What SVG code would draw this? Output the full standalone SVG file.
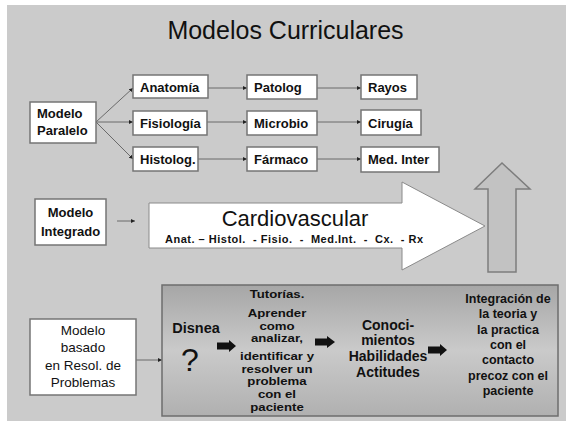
<svg xmlns="http://www.w3.org/2000/svg" width="573" height="427" viewBox="0 0 573 427">
<defs>
<style>
text{font-family:"Liberation Sans",Arial,sans-serif;fill:#111;}
.b{font-weight:bold;}
.box{fill:#fff;stroke:#757575;stroke-width:1.5;}
.lbl{font-size:13px;font-weight:bold;}
.con{stroke:#6a6a6a;stroke-width:1;fill:none;marker-end:url(#ah);}
.blk{fill:#111;}
.mid{text-anchor:middle;}
</style>
<marker id="ah" viewBox="0 0 6 6" refX="6" refY="3" markerWidth="4" markerHeight="4" orient="auto" markerUnits="userSpaceOnUse">
<path d="M0,0 L6,3 L0,6 z" fill="#222"/>
</marker>
<linearGradient id="gbox" x1="0" y1="0" x2="0" y2="1">
<stop offset="0" stop-color="#a6a6a6"/>
<stop offset="0.5" stop-color="#cacaca"/>
<stop offset="1" stop-color="#b0b0b0"/>
</linearGradient>
</defs>
<rect x="0" y="0" width="573" height="427" fill="#ffffff"/>
<rect x="7" y="5" width="559" height="416" fill="#cbcbcb"/>
<text x="285.5" y="39" class="mid" style="font-size:25px">Modelos Curriculares</text>

<g id="connectors">
<path class="con" d="M96,122 L133,88"/>
<path class="con" d="M96,122 L133,122"/>
<path class="con" d="M96,122 L133,159"/>
<path class="con" d="M208,88 L247,88"/>
<path class="con" d="M207,122 L247,122"/>
<path class="con" d="M198,159 L247,159"/>
<path class="con" d="M317,88 L361,88"/>
<path class="con" d="M317,122 L361,122"/>
<path class="con" d="M317,159 L361,159"/>
<path class="con" d="M117,221 L135,221"/>
<path class="con" d="M136,360 L162,360"/>
</g>

<g id="modelo-paralelo">
<rect class="box" x="30" y="102" width="66" height="41"/>
<text class="lbl" x="37" y="118">Modelo</text>
<text class="lbl" x="37" y="135">Paralelo</text>
</g>
<g id="anatomia"><rect class="box" x="133" y="75" width="75" height="23"/><text class="lbl" x="140" y="92">Anatomía</text></g>
<g id="fisiologia"><rect class="box" x="133" y="111" width="74" height="24"/><text class="lbl" x="140" y="128">Fisiología</text></g>
<g id="histolog"><rect class="box" x="133" y="147" width="65" height="24"/><text class="lbl" x="140" y="164">Histolog.</text></g>
<g id="patolog"><rect class="box" x="247" y="75" width="70" height="24"/><text class="lbl" x="254" y="92">Patolog</text></g>
<g id="microbio"><rect class="box" x="247" y="111" width="70" height="24"/><text class="lbl" x="254" y="128">Microbio</text></g>
<g id="farmaco"><rect class="box" x="247" y="147" width="70" height="24"/><text class="lbl" x="254" y="164">Fármaco</text></g>
<g id="rayos"><rect class="box" x="361" y="75" width="56" height="24"/><text class="lbl" x="368" y="92">Rayos</text></g>
<g id="cirugia"><rect class="box" x="361" y="110" width="60" height="25"/><text class="lbl" x="368" y="128">Cirugía</text></g>
<g id="med-inter"><rect class="box" x="361" y="147" width="78" height="25"/><text class="lbl" x="368" y="164">Med. Inter</text></g>

<g id="modelo-integrado">
<rect class="box" x="35" y="199" width="71" height="46"/>
<text class="lbl mid" x="70.5" y="217">Modelo</text>
<text class="lbl mid" x="70.5" y="236">Integrado</text>
</g>

<g id="cardiovascular">
<polygon points="149,203 402,203 402,182 485,226 402,270 402,248 149,248" fill="#fff" stroke="#8a8a8a" stroke-width="1"/>
<text class="mid" x="295" y="226" style="font-size:22px">Cardiovascular</text>
<text class="b mid" x="294" y="243" style="font-size:11px;white-space:pre" textLength="258" lengthAdjust="spacing">Anat. – Histol.  - Fisio.  -  Med.Int.  -  Cx.  - Rx</text>
</g>

<g id="flecha-arriba">
<polygon points="502,163 530,189 516,189 516,272 488,272 488,189 475,189" fill="#c2c2c2" stroke="#7d7d7d" stroke-width="1.5"/>
</g>

<g id="modelo-basado">
<rect class="box" x="30" y="319" width="106" height="76"/>
<text class="mid" x="83" y="335" style="font-size:13.5px">Modelo</text>
<text class="mid" x="83" y="352" style="font-size:13.5px">basado</text>
<text class="mid" x="83" y="370" style="font-size:13.5px">en Resol. de</text>
<text class="mid" x="83" y="387" style="font-size:13.5px">Problemas</text>
</g>

<g id="resolucion-problemas">
<rect x="162" y="285" width="396" height="131" fill="url(#gbox)" stroke="#6e6e6e" stroke-width="1.5"/>
<text class="b mid" x="196" y="333" style="font-size:14.5px">Disnea</text>
<text class="mid" x="190" y="371" style="font-size:32px">?</text>
<polygon class="blk" points="217,342.5 229,342.5 229,340 236,346 229,352 229,349.5 217,349.5"/>
<g class="b mid" style="font-size:11px" transform="translate(277,0) scale(1.2,1) translate(-277,0)">
<text x="277" y="298">Tutorías.</text>
<text x="277" y="317">Aprender</text>
<text x="277" y="329.7">como</text>
<text x="277" y="342.4">analizar,</text>
<text x="277" y="360">identificar y</text>
<text x="277" y="372.7">resolver un</text>
<text x="277" y="385.4">problema</text>
<text x="277" y="398.1">con el</text>
<text x="277" y="410.8">paciente</text>
</g>
<polygon class="blk" points="315,338.5 327,338.5 327,336 335,342 327,348 327,345.5 315,345.5"/>
<g class="b mid" style="font-size:14px">
<text x="388" y="330">Conoci-</text>
<text x="388" y="345">mientos</text>
<text x="388" y="361">Habilidades</text>
<text x="388" y="377">Actitudes</text>
</g>
<polygon class="blk" points="428,346.5 440,346.5 440,344 447,350 440,356 440,353.5 428,353.5"/>
<g class="b mid" style="font-size:12.5px">
<text x="508" y="303">Integración de</text>
<text x="508" y="318">la teoria y</text>
<text x="508" y="334">la practica</text>
<text x="508" y="349">con el</text>
<text x="508" y="364">contacto</text>
<text x="508" y="380">precoz con el</text>
<text x="508" y="395">paciente</text>
</g>
</g>
</svg>
